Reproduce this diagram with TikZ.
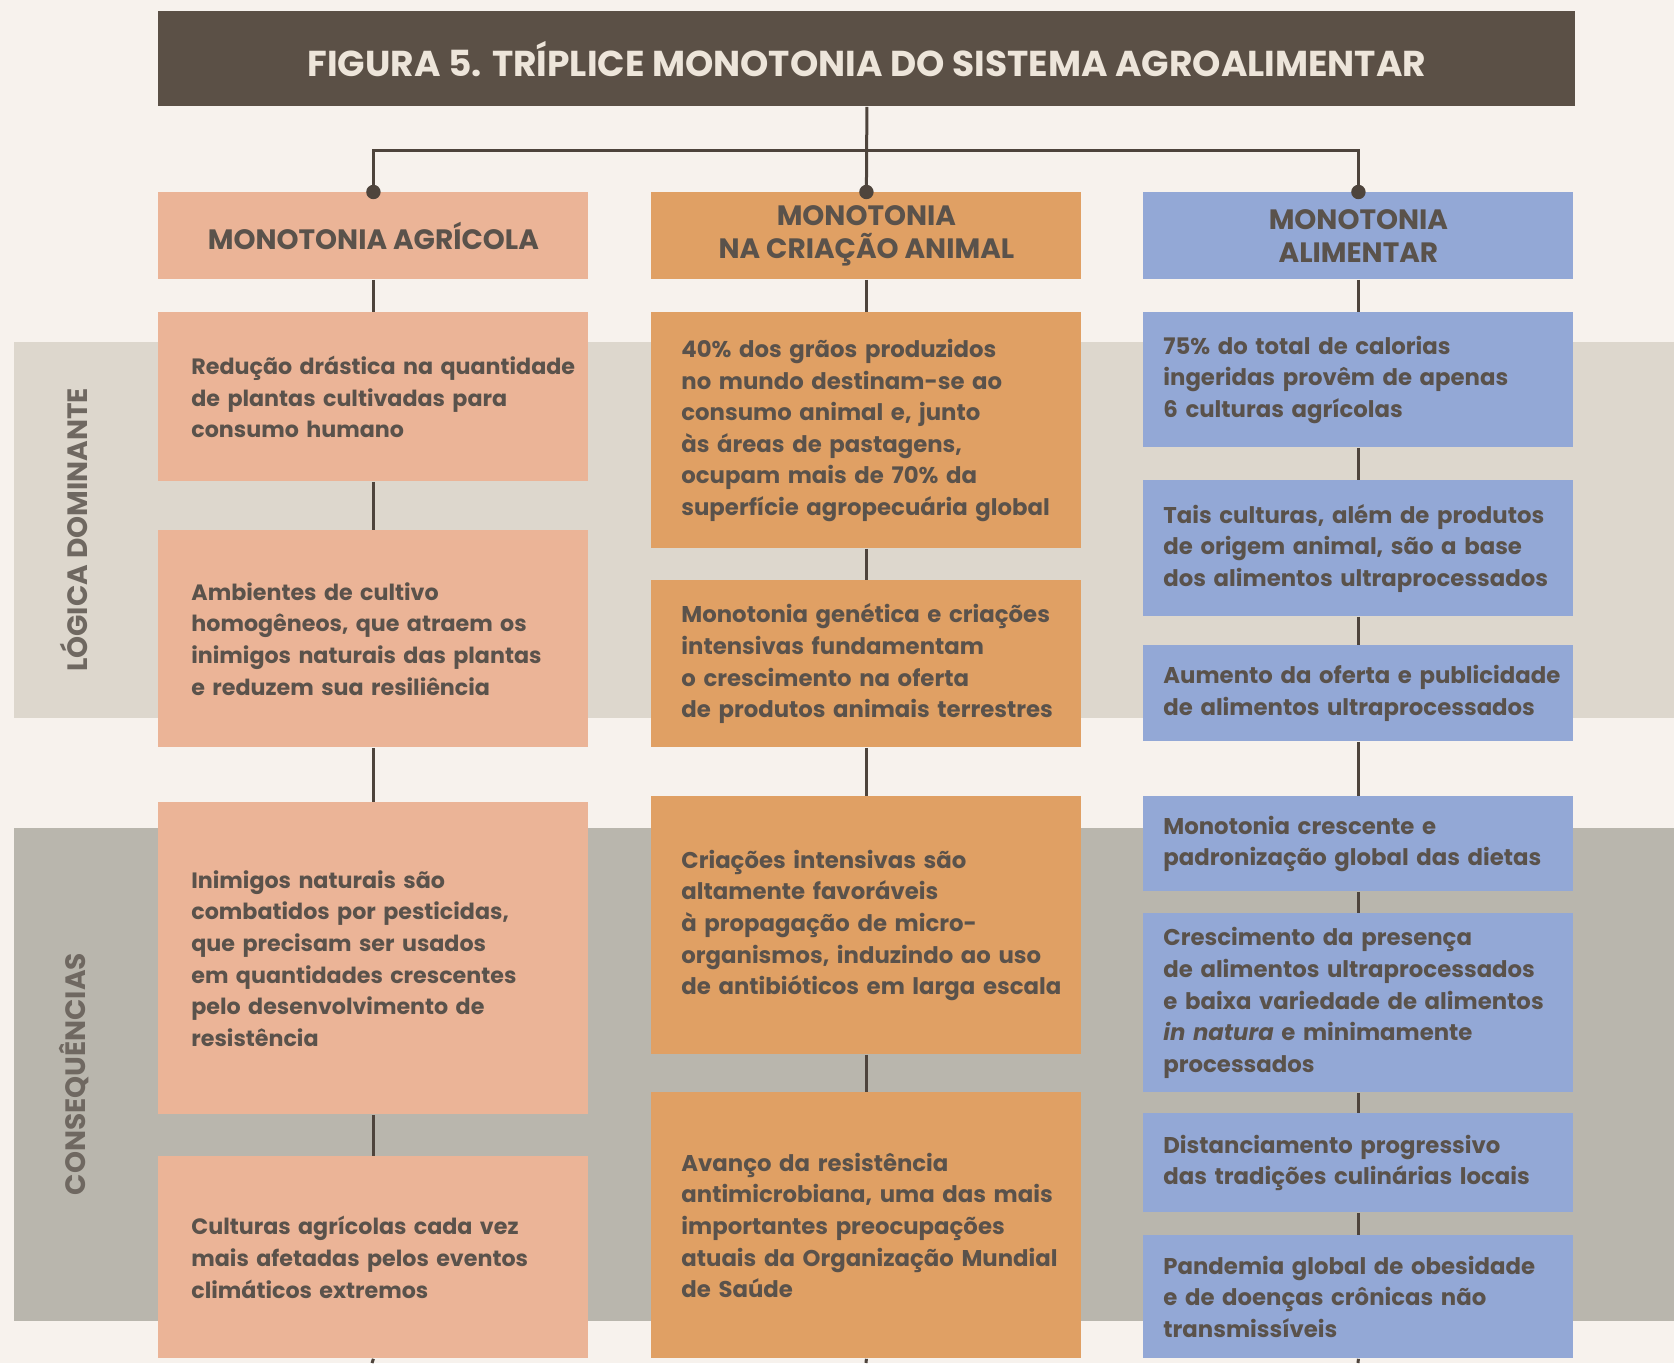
\documentclass[tikz,border=0pt]{standalone}
\usepackage{fontspec}
\setmainfont{Poppins}
\usepackage{tikz}

\definecolor{bgcream}{HTML}{F7F2ED}
\definecolor{bandlight}{HTML}{DDD7CD}
\definecolor{banddark}{HTML}{B9B6AD}
\definecolor{titlebrown}{HTML}{5B5046}
\definecolor{titletext}{HTML}{EDE5DA}
\definecolor{salmon}{HTML}{EBB497}
\definecolor{orange}{HTML}{E0A064}
\definecolor{blue}{HTML}{93A8D6}
\definecolor{txtgray}{HTML}{5A524B}
\definecolor{linkcol}{HTML}{4E443C}
\definecolor{labelgray}{HTML}{6F6861}

\tikzset{
  titlebar/.style={anchor=north west, fill=titlebrown, text=titletext,
    minimum width=708.5pt, minimum height=47.5pt,
    font=\fontsize{18}{21}\selectfont\bfseries},
  header/.style={anchor=north west, minimum width=215pt, minimum height=43.5pt,
    inner sep=0pt, align=center, text=txtgray,
    font=\fontsize{14}{16.5}\selectfont\bfseries},
  cell/.style={anchor=north west, minimum width=215pt, inner ysep=0pt,
    inner xsep=0pt, text width=215pt, align=left, text=txtgray,
    font=\fontsize{11.4}{15.8}\selectfont\bfseries},
  agri/.style={cell, fill=salmon, font=\fontsize{11.1}{15.8}\selectfont\bfseries,
    execute at begin node={\leftskip=16.5pt\rightskip=-4pt plus 2em}},
  anim/.style={cell, fill=orange, execute at begin node={\leftskip=15pt}},
  alim/.style={cell, fill=blue, execute at begin node={\leftskip=10pt}},
  side/.style={rotate=90, text=labelgray, font=\fontsize{14}{16}\selectfont\bfseries},
  link/.style={draw=linkcol, line width=1.5pt}
}

\begin{document}
\begin{tikzpicture}[x=0.5pt, y=-0.5pt]
  \fill[bgcream] (0,0) rectangle (1674,1363);
  \fill[bandlight] (14,342) rectangle (1674,718);
  \fill[banddark] (14,828) rectangle (1674,1321);

  \node[side] (logica) at (74,530) {LÓGICA DOMINANTE};
  \node[side] (conseq) at (74,1074) {CONSEQUÊNCIAS};

  \node[titlebar] (title) at (158,11) {FIGURA 5. TRÍPLICE MONOTONIA DO SISTEMA AGROALIMENTAR};

  \node[header, fill=salmon] (h1) at (158,192) {MONOTONIA AGRÍCOLA};
  \node[header, fill=orange] (h2) at (651,192) {MONOTONIA\\NA CRIAÇÃO ANIMAL};
  \node[header, fill=blue] (h3) at (1143,192) {MONOTONIA\\ALIMENTAR};

  \node[agri, minimum height=84.5pt] (a1) at (158,312)
    {Redução drástica na quantidade\\de plantas cultivadas para\\consumo humano};
  \node[agri, minimum height=108.5pt] (a2) at (158,530)
    {Ambientes de cultivo\\homogêneos, que atraem os\\inimigos naturais das plantas\\e reduzem sua resiliência};
  \node[agri, minimum height=156pt] (a3) at (158,802)
    {Inimigos naturais são\\combatidos por pesticidas,\\que precisam ser usados\\em quantidades crescentes\\pelo desenvolvimento de\\resistência};
  \node[agri, minimum height=101pt] (a4) at (158,1156)
    {Culturas agrícolas cada vez\\mais afetadas pelos eventos\\climáticos extremos};

  \node[anim, minimum height=118pt] (b1) at (651,312)
    {40\% dos grãos produzidos\\no mundo destinam-se ao\\consumo animal e, junto\\às áreas de pastagens,\\ocupam mais de 70\% da\\superfície agropecuária global};
  \node[anim, minimum height=83.5pt] (b2) at (651,580)
    {Monotonia genética e criações\\intensivas fundamentam\\o crescimento na oferta\\de produtos animais terrestres};
  \node[anim, minimum height=129pt] (b3) at (651,796)
    {Criações intensivas são\\altamente favoráveis\\à propagação de micro-\\organismos, induzindo ao uso\\de antibióticos em larga escala};
  \node[anim, minimum height=133pt] (b4) at (651,1092)
    {Avanço da resistência\\antimicrobiana, uma das mais\\importantes preocupações\\atuais da Organização Mundial\\de Saúde};

  \node[alim, minimum height=67.5pt] (c1) at (1143,312)
    {75\% do total de calorias\\ingeridas provêm de apenas\\6 culturas agrícolas};
  \node[alim, minimum height=68pt] (c2) at (1143,480)
    {Tais culturas, além de produtos\\de origem animal, são a base\\dos alimentos ultraprocessados};
  \node[alim, minimum height=48pt] (c3) at (1143,645)
    {Aumento da oferta e publicidade\\de alimentos ultraprocessados};
  \node[alim, minimum height=47.5pt] (c4) at (1143,796)
    {Monotonia crescente e\\padronização global das dietas};
  \node[alim, minimum height=89.5pt] (c5) at (1143,913)
    {Crescimento da presença\\de alimentos ultraprocessados\\e baixa variedade de alimentos\\\textit{in natura} e minimamente\\processados};
  \node[alim, minimum height=49.5pt] (c6) at (1143,1113)
    {Distanciamento progressivo\\das tradições culinárias locais};
  \node[alim, minimum height=61.5pt] (c7) at (1143,1235)
    {Pandemia global de obesidade\\e de doenças crônicas não\\transmissíveis};

  \coordinate (hub) at (866,150);
  \coordinate (endA) at (372,1363);
  \coordinate (endB) at (866,1363);
  \coordinate (endC) at (1358,1363);

  \draw[link] (title.south) -- (h2.north);
  \draw[link] (h1.north) -- (h1.north |- hub) -- (h3.north |- hub) -- (h3.north);
  \foreach \n in {h1,h2,h3}
    \fill[linkcol] (\n.north) circle (3.6pt);

  \foreach \u/\v in {h1/a1,a1/a2,a2/a3,a3/a4,h2/b1,b1/b2,b2/b3,b3/b4,
                     h3/c1,c1/c2,c2/c3,c3/c4,c4/c5,c5/c6,c6/c7}
    \draw[link] (\u.south) -- (\v.north);
  \draw[link] (a4.south) -- (endA);
  \draw[link] (b4.south) -- (endB);
  \draw[link] (c7.south) -- (endC);
\end{tikzpicture}
\end{document}
